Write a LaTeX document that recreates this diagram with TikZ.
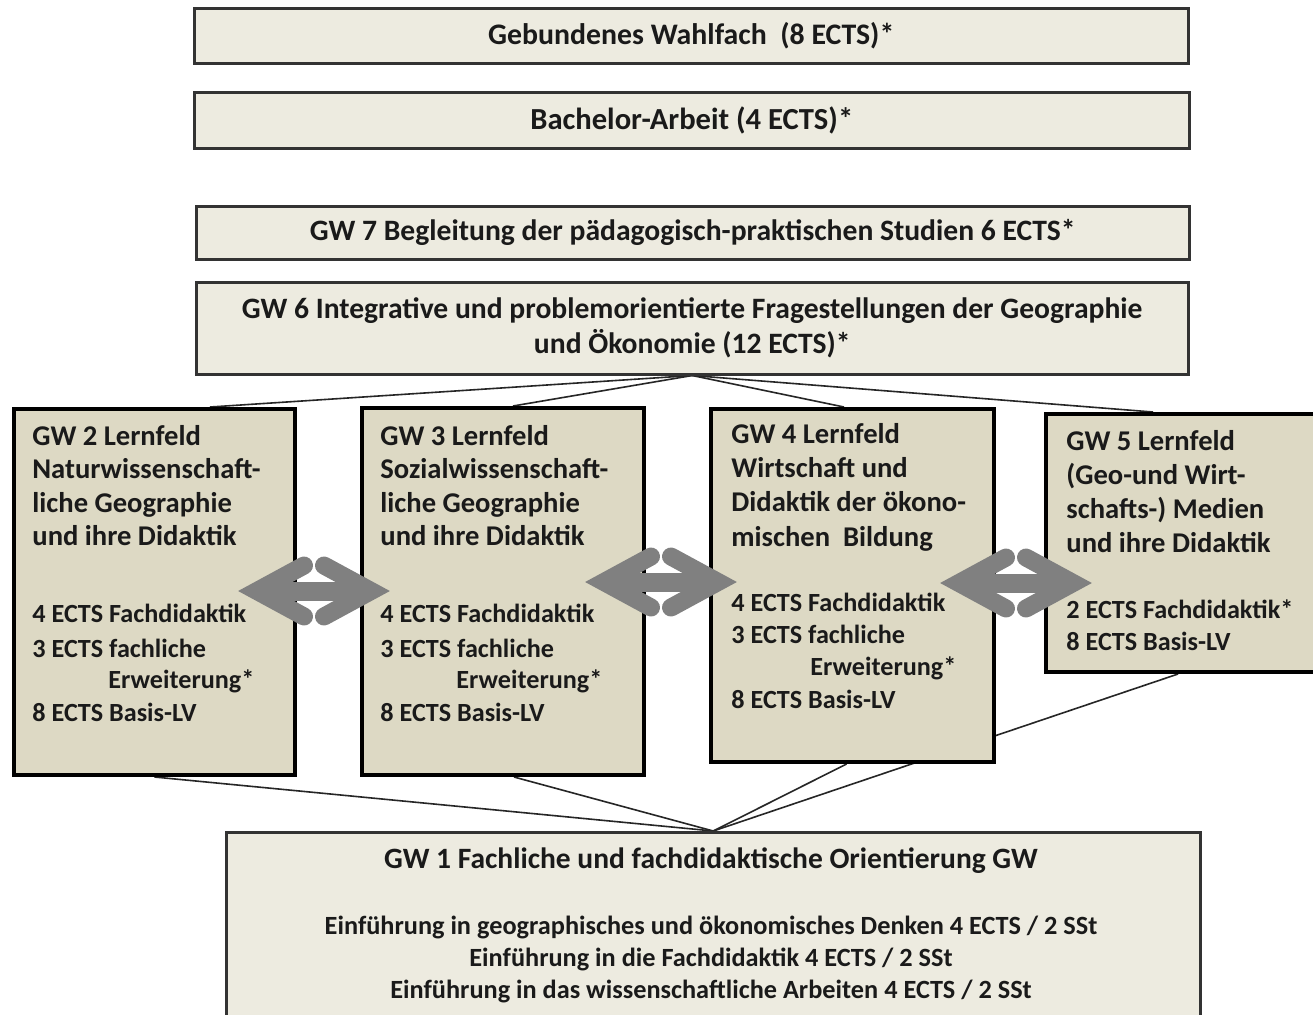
\documentclass[tikz,border=0pt]{standalone}
\usepackage{fontspec}
\setmainfont{Carlito}
\usetikzlibrary{calc}
\definecolor{boxlight}{HTML}{EDEBE0}
\definecolor{boxtan}{HTML}{DDD9C4}
\definecolor{arrowgrey}{HTML}{808080}
\definecolor{txt}{HTML}{1A1A1A}
\pgfdeclarelayer{bg}
\pgfsetlayers{bg,main}
\begin{document}
\begin{tikzpicture}[x=0.5pt,y=-0.5pt,
  topbox/.style={draw=black!80, line width=1.25pt, fill=boxlight, anchor=north west, inner sep=0pt, text=txt, font=\bfseries\fontsize{14.9}{17.5}\selectfont},
  gwbox/.style={draw=black, line width=2pt, fill=boxtan, anchor=north west, inner sep=0pt},
  gwtext/.style={anchor=base west, inner sep=0pt, text=txt, font=\bfseries\fontsize{14.3}{17}\selectfont},
  gwsmall/.style={anchor=base west, inner sep=0pt, text=txt, font=\bfseries\fontsize{13.1}{15}\selectfont},
  gwonetext/.style={anchor=base, inner sep=0pt, text=txt, font=\bfseries\fontsize{13.15}{15}\selectfont},
  link/.style={draw=black!85, line width=0.8pt},
  dblarrow/.pic={
    \fill[arrowgrey] (-56,-9.5) rectangle (56,9.5);
    \draw[arrowgrey, line width=9pt, line cap=round, line join=miter] (-10,-25.5) -- (-57,0) -- (-10,25.5);
    \draw[arrowgrey, line width=9pt, line cap=round, line join=miter] (10,-25.5) -- (57,0) -- (10,25.5);
  }]
\useasboundingbox (0,0) rectangle (1313,1014);
\clip (0,0) rectangle (1313,1014);
\begin{pgfonlayer}{bg}
\fill[white] (0,0) rectangle (1313,1014);
\end{pgfonlayer}

% top boxes
\node[topbox, minimum width=994*0.5pt, minimum height=55*0.5pt] (wahl) at (193,7) {Gebundenes Wahlfach\ \ (8 ECTS)*};
\node[topbox, minimum width=995*0.5pt, minimum height=56*0.5pt, font=\bfseries\fontsize{15.3}{17.5}\selectfont] (ba) at (193,91) {Bachelor-Arbeit (4 ECTS)*};
\node[topbox, minimum width=993*0.5pt, minimum height=53*0.5pt, font=\bfseries\fontsize{14.8}{17.5}\selectfont] (gw7) at (195,205) {GW 7 Begleitung der pädagogisch-praktischen Studien 6 ECTS*};
\node[topbox, minimum width=992*0.5pt, minimum height=92*0.5pt, align=center, font=\bfseries\fontsize{14.8}{17.5}\selectfont] (gw6) at (195,281) {GW 6 Integrative und problemorientierte Fragestellungen der Geographie\\und Ökonomie (12 ECTS)*};

% Lernfeld boxes
\node[gwbox, minimum width=281*0.5pt, minimum height=366*0.5pt] (gw2) at (12,407) {};
\node[gwbox, minimum width=282*0.5pt, minimum height=367*0.5pt] (gw3) at (360,406) {};
\node[gwbox, minimum width=283*0.5pt, minimum height=353*0.5pt] (gw4) at (709,407) {};
\node[gwbox, minimum width=300*0.5pt, minimum height=258*0.5pt] (gw5) at (1044,412) {};

% GW 1 box
\node[topbox, minimum width=974*0.5pt, minimum height=220*0.5pt] (gw1) at (225,831) {};

% texts GW 2
\node[gwtext] (g2a) at (32,445) {GW 2 Lernfeld};
\node[gwtext] (g2b) at (32,478) {Naturwissenschaft-};
\node[gwtext] (g2c) at (32,512) {liche Geographie};
\node[gwtext] (g2d) at (32,545) {und ihre Didaktik};
\node[gwsmall] (g2e) at (32,622) {4 ECTS Fachdidaktik};
\node[gwsmall] (g2f) at (32,657) {3 ECTS fachliche};
\node[gwsmall] (g2g) at (108,688) {Erweiterung*};
\node[gwsmall] (g2h) at (32,721) {8 ECTS Basis-LV};
% texts GW 3
\node[gwtext] (g3a) at (380,445) {GW 3 Lernfeld};
\node[gwtext] (g3b) at (380,478) {Sozialwissenschaft-};
\node[gwtext] (g3c) at (380,512) {liche Geographie};
\node[gwtext] (g3d) at (380,545) {und ihre Didaktik};
\node[gwsmall] (g3e) at (380,622) {4 ECTS Fachdidaktik};
\node[gwsmall] (g3f) at (380,657) {3 ECTS fachliche};
\node[gwsmall] (g3g) at (456,688) {Erweiterung*};
\node[gwsmall] (g3h) at (380,721) {8 ECTS Basis-LV};
% texts GW 4
\node[gwtext] (g4a) at (731,443) {GW 4 Lernfeld};
\node[gwtext] (g4b) at (731,477) {Wirtschaft und};
\node[gwtext] (g4c) at (731,511) {Didaktik der ökono-};
\node[gwtext] (g4d) at (731,546) {mischen\ \ Bildung};
\node[gwsmall] (g4e) at (731,611) {4 ECTS Fachdidaktik};
\node[gwsmall] (g4f) at (731,643) {3 ECTS fachliche};
\node[gwsmall] (g4g) at (810,675) {Erweiterung*};
\node[gwsmall] (g4h) at (731,708) {8 ECTS Basis-LV};
% texts GW 5
\node[gwtext] (g5a) at (1066,450) {GW 5 Lernfeld};
\node[gwtext] (g5b) at (1066,484) {(Geo-und Wirt-};
\node[gwtext] (g5c) at (1066,518) {schafts-) Medien};
\node[gwtext] (g5d) at (1066,552) {und ihre Didaktik};
\node[gwsmall] (g5e) at (1066,618) {2 ECTS Fachdidaktik*};
\node[gwsmall] (g5f) at (1066,650) {8 ECTS Basis-LV};
% texts GW 1
\node[anchor=base, inner sep=0pt, text=txt, font=\bfseries\fontsize{14.75}{17}\selectfont] (g1a) at (711,868) {GW 1 Fachliche und fachdidaktische Orientierung GW};
\node[gwonetext] (g1b) at (711,934) {Einführung in geographisches und ökonomisches Denken 4 ECTS / 2 SSt};
\node[gwonetext] (g1c) at (711,966) {Einführung in die Fachdidaktik 4 ECTS / 2 SSt};
\node[gwonetext] (g1d) at (711,998) {Einführung in das wissenschaftliche Arbeiten 4 ECTS / 2 SSt};

% connectors (behind boxes)
\begin{pgfonlayer}{bg}
\draw[link] (gw6.south) -- ($(gw2.north west)+(198,0)$);
\draw[link] (gw6.south) -- ($(gw3.north west)+(153,0)$);
\draw[link] (gw6.south) -- ($(gw4.north west)+(135,0)$);
\draw[link] (gw6.south) -- ($(gw5.north west)+(109,0)$);
\draw[link] (gw1.north) -- (gw2.south);
\draw[link] (gw1.north) -- ($(gw3.south)+(11,0)$);
\draw[link] (gw1.north) -- ($(gw4.south)+(-6,0)$);
\draw[link] (gw1.north) -- ($(gw5.south west)+(134,0)$);
\end{pgfonlayer}

% double arrows
\pic (ar1) at (314,591) {dblarrow};
\pic (ar2) at (661,582) {dblarrow};
\pic (ar3) at (1016,583) {dblarrow};
\end{tikzpicture}
\end{document}
